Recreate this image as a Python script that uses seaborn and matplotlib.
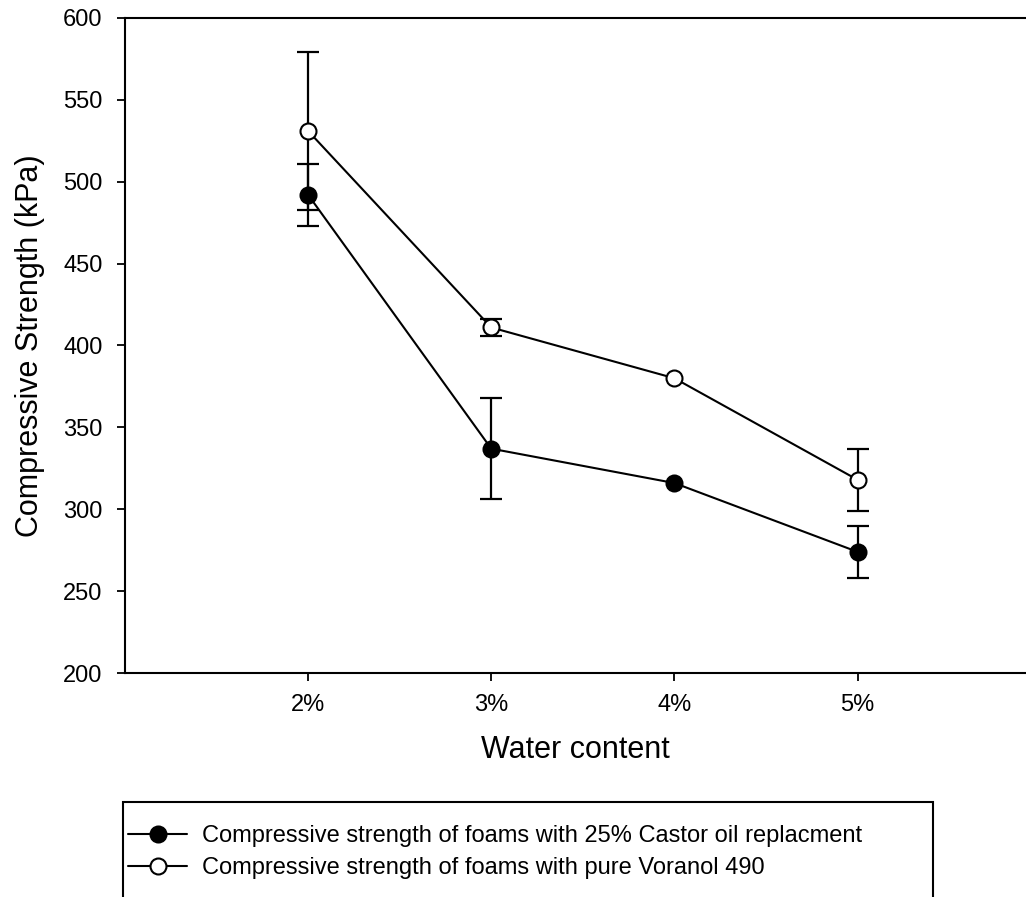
import matplotlib
matplotlib.use("Agg")
import matplotlib.pyplot as plt
from matplotlib.lines import Line2D
from matplotlib.patches import Rectangle
import seaborn as sns
import numpy as np
import pandas as pd

# Compressive strength (kPa) by water content
water = [2, 3, 4, 5]
tick_labels = ["2%", "3%", "4%", "5%"]
castor_mean = [492, 337, 316, 274]
castor_err = [19, 31, np.nan, 16]
voranol_mean = [531, 411, 380, 318]
voranol_err = [48, 5, np.nan, 19]
series_names = [
    "Compressive strength of foams with 25% Castor oil replacment",
    "Compressive strength of foams with pure Voranol 490",
]
face_colors = ["black", "white"]

sns.set_style("ticks")
plt.rcParams["font.family"] = ["Liberation Sans", "DejaVu Sans"]
plt.rcParams["text.color"] = "black"

df = pd.DataFrame({
    "water": water * 2,
    "strength": castor_mean + voranol_mean,
    "err": castor_err + voranol_err,
    "series": [series_names[0]] * 4 + [series_names[1]] * 4,
})

fig = plt.figure(figsize=(10.26, 8.97), dpi=100)
ax = fig.add_axes([0.1218, 0.2497, 0.8782, 0.7303])

for name, face in zip(series_names, face_colors):
    sub = df[df["series"] == name]
    ok = sub["err"].notna()
    ax.errorbar(sub["water"][ok], sub["strength"][ok], yerr=sub["err"][ok],
                fmt="none", ecolor="black", elinewidth=1.6, capsize=8,
                capthick=1.6, zorder=2)
    sns.lineplot(data=sub, x="water", y="strength", color="black",
                 linewidth=1.5, marker="o", markersize=11.5,
                 markerfacecolor=face, markeredgecolor="black",
                 markeredgewidth=1.5, ax=ax, legend=False, zorder=3)

ax.set_xlim(1, 5.92)
ax.set_ylim(200, 600)
ax.set_xticks(water)
ax.set_xticklabels(tick_labels)
ax.set_yticks(range(200, 601, 50))
ax.tick_params(axis="both", direction="out", length=6, width=1.3,
               labelsize=17, colors="black")
ax.tick_params(axis="x", pad=9)
ax.tick_params(axis="y", pad=10)
ax.set_xlabel("Water content", fontsize=22, labelpad=14, color="black")
ax.set_ylabel("Compressive Strength (kPa)", fontsize=22, labelpad=13,
              color="black")

for side in ["left", "bottom", "top"]:
    ax.spines[side].set_visible(True)
    ax.spines[side].set_linewidth(1.5)
    ax.spines[side].set_color("black")
ax.spines["right"].set_visible(False)

# legend box below the axes
W, H = 1026, 897
fig.patches.append(Rectangle((123 / W, -0.02), (933 - 123) / W,
                             0.02 + 1 - 802 / H, transform=fig.transFigure,
                             fill=False, edgecolor="black", linewidth=1.5))
handles = [
    Line2D([], [], color="black", lw=1.5, marker="o", markersize=11.5,
           markerfacecolor=f, markeredgecolor="black", markeredgewidth=1.5)
    for f in face_colors
]
leg = fig.legend(handles, series_names, loc="upper left",
                 bbox_to_anchor=(128 / W, 1 - 825 / H), fontsize=17,
                 frameon=False, handlelength=2.5, handletextpad=0.63,
                 borderpad=0, labelspacing=0.42, borderaxespad=0)
for t in leg.get_texts():
    t.set_color("black")

fig.savefig("out.png", dpi=100)
